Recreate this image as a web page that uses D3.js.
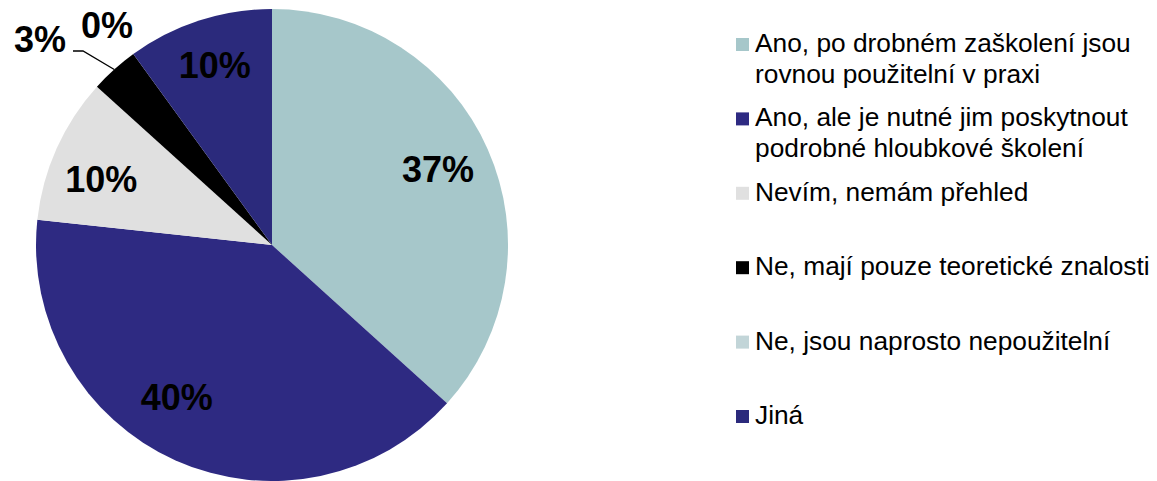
<!DOCTYPE html>
<html><head><meta charset="utf-8">
<script src="https://cdn.jsdelivr.net/npm/d3@7"></script>
<style>html,body{margin:0;padding:0;background:#fff;}svg{display:block;font-family:"Liberation Sans",Arial,sans-serif;}</style>
</head><body>
<svg id="chart" width="1157" height="481"></svg>
<script>
const categories = [
  "Ano, po drobném zaškolení jsou|rovnou použitelní v praxi",
  "Ano, ale je nutné jim poskytnout|podrobné hloubkové školení",
  "Nevím, nemám přehled",
  "Ne, mají pouze teoretické znalosti",
  "Ne, jsou naprosto nepoužitelní",
  "Jiná"
];
const values = [36.7, 40.0, 10.0, 3.3, 0.0, 10.0];
const colors = ["#A6C7CA", "#2E2A82", "#E0E0E0", "#000000", "#C2D5D8", "#2B2A7C"];

const svg = d3.select("#chart");
const cx = 272, cy = 245, R = 236;
const g = svg.append("g").attr("transform", `translate(${cx},${cy})`);

const pie = d3.pie().sort(null).value(d => d);
const arcs = pie(values);
const arc = d3.arc().innerRadius(0).outerRadius(R);
const labelArc = d3.arc().innerRadius(R * 0.77).outerRadius(R * 0.77);
// small layout nudges for inside labels (pixels)
const nudge = [[0, -2], [-21, -14], [-5, 8], [0, 0], [0, 0], [-1, -7]];

g.selectAll("path.slice").data(arcs).enter().append("path")
  .attr("class", "slice")
  .attr("d", arc)
  .attr("fill", (d, i) => colors[i]);

const fmt = v => Math.round(v) + "%";

arcs.forEach((d, i) => {
  const v = values[i];
  if (v >= 5) {
    const [x, y] = labelArc.centroid(d);
    g.append("text").attr("x", x + nudge[i][0]).attr("y", y + nudge[i][1]).attr("dy", "0.36em")
      .attr("text-anchor", "middle").attr("font-size", 36).attr("font-weight", "bold")
      .attr("fill", "#000").text(fmt(v));
  }
});

// outside labels for small slices
const small = arcs[3];
const mid = (small.startAngle + small.endAngle) / 2;
const ex = R * Math.sin(mid), ey = -R * Math.cos(mid);
const p1 = [ex, ey], p2 = [83 - cx, 51 - cy], p3 = [73 - cx, 51 - cy];
g.append("polyline").attr("points", [p1, p2, p3].map(p => p.join(",")).join(" "))
  .attr("fill", "none").attr("stroke", "#000").attr("stroke-width", 1.3);
g.append("text").attr("x", 66 - cx).attr("y", 52 - cy).attr("text-anchor", "end")
  .attr("font-size", 36).attr("font-weight", "bold").text(fmt(values[3]));
g.append("text").attr("x", 107 - cx).attr("y", 38 - cy).attr("text-anchor", "middle")
  .attr("font-size", 36).attr("font-weight", "bold").text(fmt(values[4]));

// legend
const lg = svg.append("g").attr("transform", "translate(736,52)");
const step = 74.4, lineH = 31;
categories.forEach((c, i) => {
  const it = lg.append("g").attr("transform", `translate(0,${i * step})`);
  it.append("rect").attr("x", 0).attr("y", -14).attr("width", 13).attr("height", 13).attr("fill", colors[i]);
  const t = it.append("text").attr("x", 19).attr("y", 0).attr("font-size", 26.3).attr("fill", "#000");
  c.split("|").forEach((ln, j) => {
    t.append("tspan").attr("x", 19).attr("dy", j === 0 ? 0 : lineH).text(ln);
  });
});
</script>
</body></html>
